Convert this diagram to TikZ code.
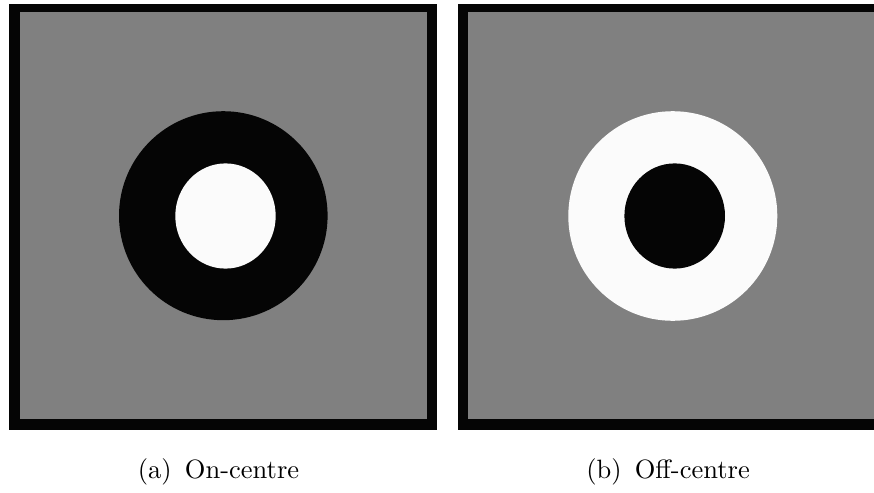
\documentclass[tikz,border=0pt]{standalone}
\begin{document}
\begin{tikzpicture}[x=0.4pt,y=-0.4pt,
  blk/.style={fill={rgb,255:red,5;green,5;blue,5}},
  gry/.style={fill={rgb,255:red,128;green,128;blue,128}},
  wht/.style={fill={rgb,255:red,251;green,251;blue,251}},
  captext/.style={anchor=base,inner sep=0pt,font=\fontsize{10.6}{12}\selectfont}]
\useasboundingbox (0,0) rectangle (874,493);
\fill[white] (0,0) rectangle (874,493);
% left panel
\fill[blk] (9,4) rectangle (437,430);
\fill[gry] (19.5,12) rectangle (427,419);
\fill[blk] (223.3,215.7) ellipse [x radius=104.3, y radius=104.5];
\fill[wht] (225.5,216) ellipse [x radius=50.2, y radius=52.6];
% right panel
\fill[blk] (458,4) rectangle (874,430);
\fill[gry] (468,12) rectangle (874,419);
\fill[wht] (672.8,216) ellipse [x radius=104.5, y radius=104.8];
\fill[blk] (674.7,216) ellipse [x radius=50.3, y radius=52.6];
% captions
\node[captext] (capa) at (218.5,478) {(a)\enspace On-centre};
\node[captext] (capb) at (668,478) {(b)\enspace Off-centre};
\end{tikzpicture}
\end{document}
